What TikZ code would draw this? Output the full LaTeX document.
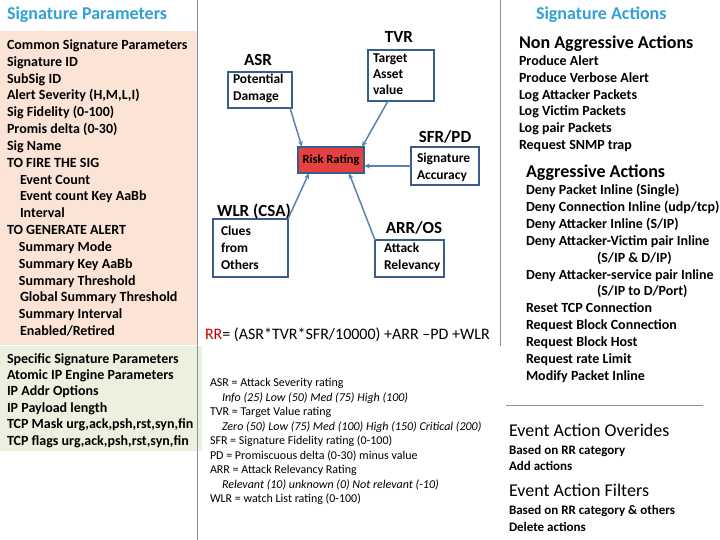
\documentclass[tikz,border=0pt]{standalone}
\usepackage{fontspec}
\setmainfont{Carlito}
\usetikzlibrary{arrows.meta,calc}
\definecolor{ttl}{RGB}{49,161,214}
\definecolor{peach}{RGB}{251,228,214}
\definecolor{lgreen}{RGB}{235,241,222}
\definecolor{boxb}{RGB}{56,93,138}
\definecolor{conn}{RGB}{91,130,176}
\definecolor{sepc}{RGB}{127,148,172}
\definecolor{rrred}{RGB}{232,64,64}
\definecolor{dred}{RGB}{192,0,0}
\begin{document}
\begin{tikzpicture}[x=1pt,y=-1pt,
  every node/.style={inner sep=0pt, outer sep=0pt, anchor=base west},
  ttlf/.style={font=\fontsize{18}{21}\selectfont\bfseries, text=ttl},
  lst/.style={font=\fontsize{14}{16}\selectfont\bfseries},
  lsts/.style={font=\fontsize{13}{15}\selectfont\bfseries},
  hd/.style={font=\fontsize{18}{21}\selectfont\bfseries},
  hdr/.style={font=\fontsize{18}{21}\selectfont},
  lbl/.style={font=\fontsize{17}{20}\selectfont\bfseries, anchor=base},
  btxt/.style={font=\fontsize{13.5}{16}\selectfont\bfseries},
  leg/.style={font=\fontsize{12}{14}\selectfont},
  legi/.style={font=\fontsize{12}{14}\selectfont\itshape},
  bx/.style={draw=boxb, line width=2.5pt, anchor=center, rectangle},
  cn/.style={draw=conn, line width=1.5pt, -{Stealth[length=6pt,width=5pt]}},
  sepl/.style={draw=sepc, line width=1pt},
]
\useasboundingbox (0,0) rectangle (720,540);
\fill[white] (0,0) rectangle (720,540);
% backgrounds
\fill[peach] (0,31) rectangle (197,345);
\fill[lgreen] (0,346) rectangle (202,451);
% separators
\draw[sepl] (197,0) -- (197,540);
\draw[sepl] (500,0) -- (500,346);
\draw[sepl] (506,405) -- (703,405);

% ---------- left pane
\node[ttlf] (t1) at (7,19.8) {Signature Parameters};
\node[lst] (c1) at (7,49.5) {Common Signature Parameters};
\node[lst] (c2) at (7,66.3) {Signature ID};
\node[lst] (c3) at (7,83.1) {SubSig ID};
\node[lst] (c4) at (7,100) {Alert Severity (H,M,L,I)};
\node[lst] (c5) at (7,116.8) {Sig Fidelity (0-100)};
\node[lst] (c6) at (7,133.6) {Promis delta (0-30)};
\node[lst] (c7) at (7,150.4) {Sig Name};
\node[lst] (c8) at (7,167.2) {TO FIRE THE SIG};
\node[lst] (c9) at (20,184.1) {Event Count};
\node[lst] (c10) at (20,200.9) {Event count Key AaBb};
\node[lst] (c11) at (20,217.7) {Interval};
\node[lst] (c12) at (7,234.5) {TO GENERATE ALERT};
\node[lst] (c13) at (19,251.3) {Summary Mode};
\node[lst] (c14) at (19,268.2) {Summary Key AaBb};
\node[lst] (c15) at (19,285) {Summary Threshold};
\node[lst] (c16) at (20,301.8) {Global Summary Threshold};
\node[lst] (c17) at (19,318.6) {Summary Interval};
\node[lst] (c18) at (20,335.5) {Enabled/Retired};
\node[lst] (s1) at (7,363) {Specific Signature Parameters};
\node[lst] (s2) at (7,379.4) {Atomic IP Engine Parameters};
\node[lst] (s3) at (7,395.8) {IP Addr Options};
\node[lst] (s4) at (7,412.2) {IP Payload length};
\node[lst] (s5) at (7,428.6) {TCP Mask urg,ack,psh,rst,syn,fin};
\node[lst] (s6) at (7,445) {TCP flags urg,ack,psh,rst,syn,fin};

% ---------- middle diagram
\node[bx, minimum width=66pt, minimum height=51pt] (tvrbox) at (401,75.5) {};
\node[bx, minimum width=64pt, minimum height=36pt] (asrbox) at (260,90) {};
\node[bx, minimum width=68pt, minimum height=38pt] (sfrbox) at (445,166) {};
\node[bx, minimum width=75pt, minimum height=58pt] (wlrbox) at (250.5,248) {};
\node[bx, minimum width=69pt, minimum height=37pt] (arrbox) at (409.5,258.5) {};
\node[bx, fill=rrred, minimum width=66pt, minimum height=26pt,
      font=\fontsize{12.5}{14}\selectfont\bfseries] (risk) at (331,160) {Risk Rating};

\node[lbl] (tvrl) at (399,42.5) {TVR};
\node[lbl] (asrl) at (258,65.5) {ASR};
\node[lbl] (sfrl) at (445,142.5) {SFR/PD};
\node[lbl] (wlrl) at (254,216.5) {WLR (CSA)};
\node[lbl] (arrl) at (414,233.5) {ARR/OS};

\node[btxt] (tv1) at (373,62.3) {Target};
\node[btxt] (tv2) at (373,78.3) {Asset};
\node[btxt] (tv3) at (373,94.3) {value};
\node[btxt] (as1) at (233,83.3) {Potential};
\node[btxt] (as2) at (233,100.3) {Damage};
\node[btxt] (sf1) at (417,162.3) {Signature};
\node[btxt] (sf2) at (417,179.3) {Accuracy};
\node[btxt] (wl1) at (221,235.3) {Clues};
\node[btxt] (wl2) at (221,252.3) {from};
\node[btxt] (wl3) at (221,269.3) {Others};
\node[btxt] (ar1) at (384,252.3) {Attack};
\node[btxt] (ar2) at (384,269.3) {Relevancy};

\draw[cn] ($(asrbox.south east)+(-2,0)$) -- ($(risk.north west)+(4,0)$);
\draw[cn] ($(tvrbox.south west)+(20,0)$) -- ($(risk.north east)+(-2,0)$);
\draw[cn] (sfrbox.west) -- (risk.east |- sfrbox.west);
\draw[cn] (wlrbox.north east) -- ($(risk.south west)+(11,0)$);
\draw[cn] (arrbox.north west) -- ($(risk.south east)+(-15,0)$);

\node[font=\fontsize{16}{19}\selectfont] (rr) at (205,339.2)
  {\textcolor{dred}{RR}= (ASR*TVR*SFR/10000) +ARR –PD +WLR};

\node[leg] (g1) at (210,386.9) {ASR = Attack Severity rating};
\node[legi] (g2) at (222,401.4) {Info (25) Low (50) Med (75) High (100)};
\node[leg] (g3) at (210,415.9) {TVR = Target Value rating};
\node[legi] (g4) at (222,430.4) {Zero (50) Low (75) Med (100) High (150) Critical (200)};
\node[leg] (g5) at (210,444.9) {SFR = Signature Fidelity rating (0-100)};
\node[leg] (g6) at (210,459.4) {PD = Promiscuous delta (0-30) minus value};
\node[leg] (g7) at (210,473.9) {ARR = Attack Relevancy Rating};
\node[legi] (g8) at (222,488.4) {Relevant (10) unknown (0) Not relevant (-10)};
\node[leg] (g9) at (210,502.9) {WLR = watch List rating (0-100)};

% ---------- right pane
\node[ttlf] (t2) at (536,19.8) {Signature Actions};
\node[hd] (na) at (519,48.8) {Non Aggressive Actions};
\node[lst] (n1) at (519,65.5) {Produce Alert};
\node[lst] (n2) at (519,82.3) {Produce Verbose Alert};
\node[lst] (n3) at (519,99.1) {Log Attacker Packets};
\node[lst] (n4) at (519,115.9) {Log Victim Packets};
\node[lst] (n5) at (519,132.7) {Log pair Packets};
\node[lst] (n6) at (519,149.5) {Request SNMP trap};
\node[hd] (ag) at (526,177.8) {Aggressive Actions};
\node[lst] (a1) at (526,194.5) {Deny Packet Inline (Single)};
\node[lst] (a2) at (526,211.4) {Deny Connection Inline (udp/tcp)};
\node[lst] (a3) at (526,228.3) {Deny Attacker Inline (S/IP)};
\node[lst] (a4) at (526,245.2) {Deny Attacker-Victim pair Inline};
\node[lst] (a5) at (597,262.1) {(S/IP \& D/IP)};
\node[lst] (a6) at (526,279) {Deny Attacker-service pair Inline};
\node[lst] (a7) at (597,295.9) {(S/IP to D/Port)};
\node[lst] (a8) at (526,312.8) {Reset TCP Connection};
\node[lst] (a9) at (526,329.7) {Request Block Connection};
\node[lst] (a10) at (526,346.6) {Request Block Host};
\node[lst] (a11) at (526,363.5) {Request rate Limit};
\node[lst] (a12) at (526,380.4) {Modify Packet Inline};

\node[hdr] (eo) at (509,436.8) {Event Action Overides};
\node[lsts] (eo1) at (509,454.2) {Based on RR category};
\node[lsts] (eo2) at (509,470.2) {Add actions};
\node[hdr] (ef) at (509,496.8) {Event Action Filters};
\node[lsts] (ef1) at (509,514.2) {Based on RR category \& others};
\node[lsts] (ef2) at (509,531.2) {Delete actions};
\end{tikzpicture}
\end{document}
